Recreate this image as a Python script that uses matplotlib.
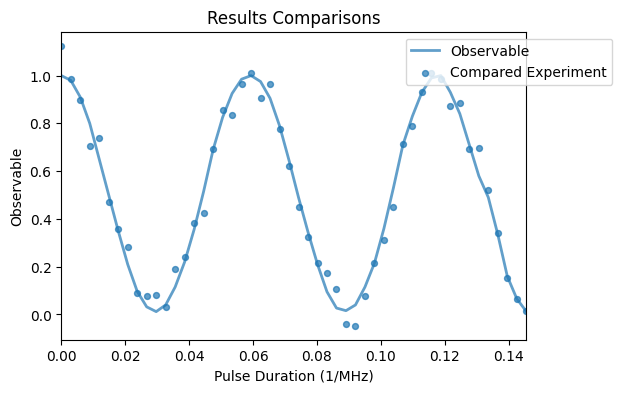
import numpy as np
import matplotlib
matplotlib.use("Agg")
import matplotlib.pyplot as plt

# pulse durations (1/MHz), evenly sampled
t = np.linspace(0, 0.1455, 50)

# simulated observable (line)
observable = [1.00, 0.98, 0.91, 0.80, 0.65, 0.50, 0.35, 0.21, 0.097, 0.032,
              0.012, 0.04, 0.115, 0.22, 0.356, 0.515, 0.69, 0.825, 0.925, 0.985,
              1.00, 0.975, 0.905, 0.79, 0.645, 0.49, 0.345, 0.21, 0.095, 0.027,
              0.016, 0.04, 0.115, 0.215, 0.36, 0.53, 0.71, 0.83, 0.93, 0.99,
              1.00, 0.93, 0.84, 0.71, 0.58, 0.49, 0.335, 0.16, 0.066, 0.013]

# measured experiment (scatter)
experiment = [1.125, 0.986, 0.898, 0.705, 0.738, 0.469, 0.356, 0.284, 0.091, 0.078,
              0.083, 0.032, 0.189, 0.239, 0.381, 0.424, 0.692, 0.856, 0.835, 0.965,
              1.011, 0.906, 0.965, 0.776, 0.620, 0.448, 0.326, 0.217, 0.175, 0.108,
              -0.039, -0.047, 0.078, 0.217, 0.310, 0.448, 0.713, 0.789, 0.931, 1.010,
              0.986, 0.873, 0.887, 0.693, 0.697, 0.520, 0.343, 0.154, 0.066, 0.013]

fig, ax = plt.subplots(figsize=(6, 4))
ax.plot(t, observable, color="C0", alpha=0.7, lw=2, label="Observable")
ax.scatter(t, experiment, color="C0", alpha=0.7, s=18, label="Compared Experiment")
ax.set_xlim(0, t[-1])
ax.set_title("Results Comparisons")
ax.set_xlabel("Pulse Duration (1/MHz)")
ax.set_ylabel("Observable")
ax.legend(loc="upper right", bbox_to_anchor=(1.2, 1))

plt.savefig("out.png", bbox_inches="tight")
